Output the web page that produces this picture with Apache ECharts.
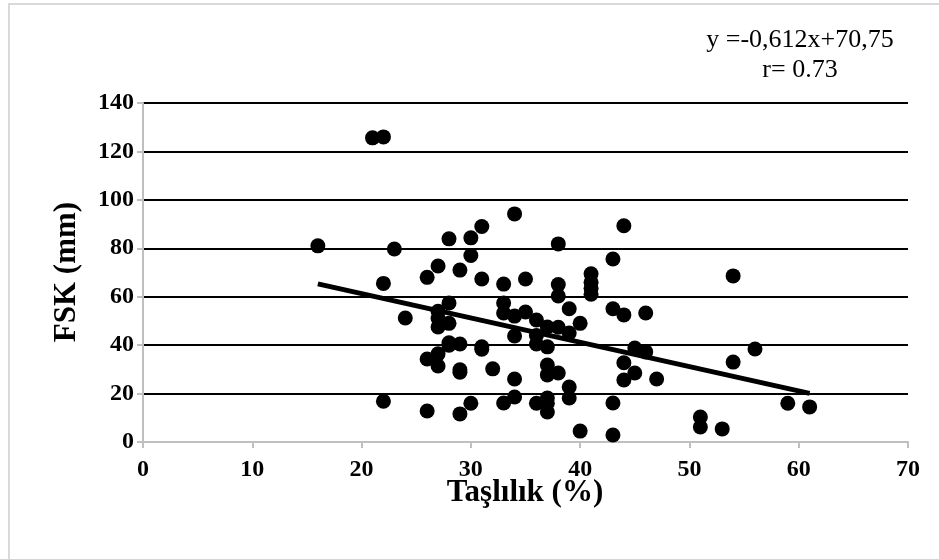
<!DOCTYPE html>
<html>
<head>
<meta charset="utf-8">
<script src="https://cdn.jsdelivr.net/npm/echarts@6/dist/echarts.min.js"></script>
<style>html,body{margin:0;padding:0;background:#fff;}#c{width:939px;height:559px;}</style>
</head>
<body>
<div id="c"></div>
<script>
var taslilik = [16,21,22,22,22,23,24,26,26,26,27,27,27,27,27,27,28,28,28,28,28,29,29,29,29,29,30,30,30,31,31,31,31,32,33,33,33,33,34,34,34,34,34,35,35,36,36,36,36,37,37,37,37,37,37,37,38,38,38,38,38,39,39,39,39,40,40,41,41,41,41,43,43,43,43,44,44,44,44,45,45,46,46,47,51,51,53,54,54,56,59,61];
var fsk = [81,125.6,126,65.5,16.8,79.7,51.2,68,34.3,12.8,72.7,54,51,47.5,36.4,31.4,83.9,57.4,49,41,40,71,40.5,29.8,28.8,11.6,84.3,77,16,89,67.3,39.3,38.3,30.2,65.2,57.4,53.3,16.1,94.2,52,43.8,26,18.6,67.3,53.7,50.4,44,40.5,16,47.5,39.3,31.8,27.7,18.2,16,12.4,81.8,65,60.3,47.4,28.5,55,45,22.7,18.2,49,4.5,69.5,66,63.5,61,75.6,55,16.1,2.9,89.3,52.5,32.7,25.6,38.8,28.5,53.3,37.2,26,10.3,6.2,5.4,68.6,33,38.4,16,14.5];
var trendX = [16,61];
var trendY = [65.3,20.1];
var xTicks = [0,10,20,30,40,50,60,70];
var yTicks = [0,20,40,60,80,100,120,140];
var eqText = 'y =-0,612x+70,75';
var rText = 'r= 0.73';

var pts = taslilik.map(function(x,i){return [x,fsk[i]];});
var trend = trendX.map(function(x,i){return [x,trendY[i]];});
var serif = '"Liberation Serif","Times New Roman",serif';
var chart = echarts.init(document.getElementById('c'), null, {renderer:'canvas'});
chart.setOption({
  backgroundColor:'#fff',
  animation:false,
  grid:{left:143,right:31,top:103,bottom:117},
  graphic:[
    {type:'rect',shape:{x:9,y:4,width:960,height:600},style:{fill:'none',stroke:'#d9d9d9',lineWidth:2},silent:true},
    {type:'text',x:800,y:40,style:{text:eqText,font:'26px '+serif,fill:'#000',textAlign:'center',textVerticalAlign:'middle'}},
    {type:'text',x:800,y:70,style:{text:rText,font:'26px '+serif,fill:'#000',textAlign:'center',textVerticalAlign:'middle'}},
    {type:'text',x:67,y:272,rotation:Math.PI/2,style:{text:'FSK (mm)',font:'bold 31px '+serif,fill:'#000',textAlign:'center',textVerticalAlign:'middle'}},
    {type:'text',x:525,y:493,style:{text:'Taşlılık (%)',font:'bold 31px '+serif,fill:'#000',textAlign:'center',textVerticalAlign:'middle'}}
  ],
  xAxis:{type:'value',min:xTicks[0],max:xTicks[xTicks.length-1],interval:10,
    axisLine:{show:true,lineStyle:{color:'#bfbfbf',width:2}},
    axisTick:{show:true,length:6,lineStyle:{color:'#bfbfbf',width:2}},
    axisLabel:{color:'#000',fontFamily:serif,fontWeight:'bold',fontSize:24,margin:16},
    splitLine:{show:false}},
  yAxis:{type:'value',min:yTicks[0],max:yTicks[yTicks.length-1],interval:20,
    axisLine:{show:true,lineStyle:{color:'#bfbfbf',width:2}},
    axisTick:{show:true,length:6,lineStyle:{color:'#bfbfbf',width:2}},
    axisLabel:{color:'#000',fontFamily:serif,fontWeight:'bold',fontSize:24,margin:9},
    splitLine:{show:true,lineStyle:{color:['rgba(0,0,0,0)','#000','#000','#000','#000','#000','#000','#000'],width:2}}},
  series:[
    {type:'line',data:trend,symbol:'none',lineStyle:{color:'#000',width:5},z:3},
    {type:'scatter',data:pts,symbol:'circle',symbolSize:15,itemStyle:{color:'#000',opacity:1},z:4}
  ]
});
</script>
</body>
</html>
